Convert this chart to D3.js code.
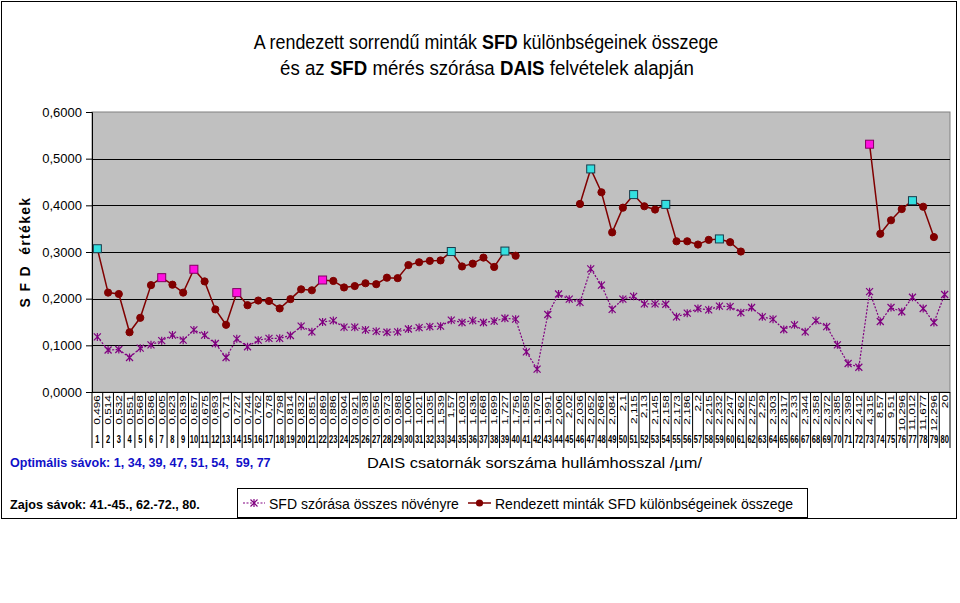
<!DOCTYPE html>
<html><head><meta charset="utf-8">
<script src="https://cdn.jsdelivr.net/npm/d3@7"></script>
<style>
body{margin:0;background:#fff}
svg{display:block}
text{font-family:"Liberation Sans",Arial,sans-serif}
</style>
</head><body>
<svg id="c" width="960" height="603"></svg>
<script>
const categories = d3.range(1, 81);
const wavelengths = ["0,496","0,514","0,532","0,551","0,568","0,586","0,605","0,623","0,639","0,657",
"0,675","0,693","0,71","0,727","0,744","0,762","0,78","0,798","0,814","0,832",
"0,851","0,869","0,886","0,904","0,921","0,938","0,956","0,973","0,988","1,006",
"1,021","1,035","1,539","1,57","1,603","1,636","1,668","1,699","1,727","1,756",
"1,958","1,976","1,991","2,006","2,02","2,036","2,052","2,068","2,084","2,1",
"2,115","2,13","2,145","2,158","2,173","2,186","2,2","2,215","2,232","2,247",
"2,262","2,275","2,29","2,303","2,317","2,33","2,344","2,358","2,372","2,385",
"2,398","2,412","4,315","8,57","9,51","10,296","11,012","11,677","12,296","20"];
const sfdSpread = [0.118,0.090,0.091,0.074,0.094,0.101,0.110,0.122,0.111,0.133,
0.122,0.104,0.074,0.114,0.097,0.111,0.115,0.115,0.121,0.141,
0.129,0.150,0.153,0.139,0.139,0.133,0.130,0.128,0.129,0.135,
0.138,0.140,0.141,0.154,0.149,0.153,0.149,0.152,0.158,0.156,
0.086,0.049,0.166,0.210,0.199,0.192,0.264,0.229,0.177,0.199,
0.205,0.189,0.189,0.188,0.161,0.169,0.179,0.176,0.184,0.183,
0.170,0.181,0.161,0.156,0.134,0.144,0.129,0.153,0.140,0.101,
0.061,0.053,0.215,0.151,0.181,0.172,0.203,0.179,0.149,0.209];
const sortedDiffSum = [0.307,0.213,0.210,0.128,0.159,0.229,0.245,0.230,0.213,0.263,
0.237,0.177,0.144,0.213,0.186,0.196,0.195,0.179,0.199,0.220,
0.218,0.240,0.238,0.224,0.227,0.233,0.231,0.245,0.244,0.272,
0.278,0.281,0.282,0.301,0.269,0.275,0.288,0.268,0.302,0.292,
null,null,null,null,null,0.403,0.478,0.428,0.342,0.395,
0.423,0.398,0.391,0.402,0.323,0.323,0.316,0.326,0.328,0.321,
0.301,null,null,null,null,null,null,null,null,null,
null,null,0.531,0.339,0.368,0.392,0.410,0.397,0.332,null];
const optimalBands = [1,34,39,47,51,54,59,77];
const highlightBands = [7,10,14,22,73];
const yTicks = [0,0.1,0.2,0.3,0.4,0.5,0.6];
const seriesNames = ["SFD szórása összes növényre","Rendezett minták SFD különbségeinek összege"];

(function(){
const svg = d3.select("#c");
const pL = 92, pR = 950, pT = 112, pB = 392;
const x = d3.scaleBand().domain(categories).range([pL, pR]);
const y = d3.scaleLinear().domain([0, 0.6]).range([pB, pT]);
const cx = c => x(c) + x.bandwidth() / 2;
const fmt = v => d3.format(".4f")(v).replace(".", ",");
const RED = "#800000", PURPLE = "#800080";

function fitWidth(sel, w, ax) {
  const bb = sel.node().getBBox();
  const s = w / bb.width;
  sel.attr("transform", `translate(${ax},0) scale(${s},1) translate(${-ax},0)`);
}

svg.append("rect").attr("x", 1.5).attr("y", 1.5).attr("width", 955).attr("height", 517)
  .attr("fill", "#fff").attr("stroke", "#000").attr("stroke-width", 1);

const t1 = svg.append("text").attr("x", 486).attr("y", 49).attr("text-anchor", "middle").attr("font-size", 19.5);
t1.append("tspan").text("A rendezett sorrendű minták ");
t1.append("tspan").attr("font-weight", "bold").text("SFD");
t1.append("tspan").text(" különbségeinek összege");
fitWidth(t1, 465, 486);
const t2 = svg.append("text").attr("x", 487).attr("y", 75).attr("text-anchor", "middle").attr("font-size", 19.5);
t2.append("tspan").text("és az ");
t2.append("tspan").attr("font-weight", "bold").text("SFD");
t2.append("tspan").text(" mérés szórása ");
t2.append("tspan").attr("font-weight", "bold").text("DAIS");
t2.append("tspan").text(" felvételek alapján");
fitWidth(t2, 414, 487);

svg.append("rect").attr("x", pL).attr("y", pT).attr("width", pR - pL).attr("height", pB - pT)
  .attr("fill", "#C0C0C0").attr("stroke", "#808080").attr("stroke-width", 1);

svg.append("g").selectAll("line").data(yTicks.filter(d => d > 0 && d < 0.6)).join("line")
  .attr("x1", pL).attr("x2", pR).attr("y1", d => Math.round(y(d)) + 0.5).attr("y2", d => Math.round(y(d)) + 0.5)
  .attr("stroke", "#000").attr("stroke-width", 1);

const ya = svg.append("g").attr("transform", `translate(${pL},0)`)
  .call(d3.axisLeft(y).tickValues(yTicks).tickFormat(fmt).tickSize(6).tickPadding(4));
ya.select(".domain").attr("stroke", "#000");
ya.selectAll("text").attr("font-size", 13).attr("font-family", "Liberation Sans, Arial, sans-serif").attr("fill", "#000");

svg.append("text").attr("transform", "translate(30,252) rotate(-90)").attr("text-anchor", "middle")
  .attr("font-size", 14).attr("font-weight", "bold").attr("letter-spacing", 1.3).style("white-space", "pre")
  .text("S F D  értékek");

svg.append("line").attr("x1", pL).attr("x2", pR).attr("y1", pB + 0.5).attr("y2", pB + 0.5).attr("stroke", "#000");
svg.append("g").selectAll("line").data(categories.concat([null])).join("line")
  .attr("x1", d => d == null ? pR : x(d)).attr("x2", d => d == null ? pR : x(d))
  .attr("y1", pB).attr("y2", 448).attr("stroke", "#000").attr("stroke-width", 1);
svg.append("g").selectAll("text").data(categories).join("text")
  .attr("transform", d => `translate(${cx(d) + 3},${pB + 3}) rotate(-90) scale(1.4,1)`)
  .attr("text-anchor", "end").attr("font-size", 8.5).text((d, i) => wavelengths[i]);
svg.append("g").selectAll("text").data(categories).join("text")
  .attr("transform", d => `translate(${cx(d)},443) scale(0.72,1)`)
  .attr("text-anchor", "middle").attr("font-size", 10.5).attr("font-weight", "bold")
  .text(d => d);

const xt = svg.append("text").attr("x", 367).attr("y", 468).attr("font-size", 15).text("DAIS csatornák sorszáma hullámhosszal /µm/");
fitWidth(xt, 336, 367);

const opt = svg.append("text").attr("x", 10).attr("y", 467).attr("font-size", 13.5).attr("font-weight", "bold")
  .attr("fill", "#1010C8").style("white-space", "pre").text("Optimális sávok: " + optimalBands.slice(0,6).join(", ") + ",  " + optimalBands.slice(6).join(", "));
fitWidth(opt, 261, 10);
const noisy = svg.append("text").attr("x", 10).attr("y", 509).attr("font-size", 13.5).attr("font-weight", "bold")
  .text("Zajos sávok: 41.-45., 62.-72., 80.");
fitWidth(noisy, 190, 10);

const starPath = "M-3.5,-3.5L3.5,3.5M-3.5,3.5L3.5,-3.5M0,-4L0,4";
const purpleData = categories.map((c, i) => ({c, v: sfdSpread[i]}));
const redData = categories.map((c, i) => ({c, v: sortedDiffSum[i]}));
const line = d3.line().defined(d => d.v != null).x(d => cx(d.c)).y(d => y(d.v));

svg.append("path").datum(purpleData).attr("d", line).attr("fill", "none")
  .attr("stroke", PURPLE).attr("stroke-width", 1.2).attr("stroke-dasharray", "2,1.5");
svg.append("g").selectAll("path").data(purpleData).join("path")
  .attr("transform", d => `translate(${cx(d.c)},${y(d.v)})`).attr("d", starPath)
  .attr("stroke", PURPLE).attr("stroke-width", 1.2).attr("fill", "none");

svg.append("path").datum(redData).attr("d", line).attr("fill", "none")
  .attr("stroke", RED).attr("stroke-width", 1.5);
const redPts = redData.filter(d => d.v != null);
svg.append("g").selectAll("circle").data(redPts.filter(d => !optimalBands.includes(d.c) && !highlightBands.includes(d.c))).join("circle")
  .attr("cx", d => cx(d.c)).attr("cy", d => y(d.v)).attr("r", 3.6).attr("fill", RED).attr("stroke", RED);
svg.append("g").selectAll("rect").data(redPts.filter(d => optimalBands.includes(d.c) || highlightBands.includes(d.c))).join("rect")
  .attr("x", d => cx(d.c) - 4).attr("y", d => y(d.v) - 4).attr("width", 8).attr("height", 8)
  .attr("fill", d => optimalBands.includes(d.c) ? "#33E0E0" : "#FF10E0")
  .attr("stroke", d => optimalBands.includes(d.c) ? "#1a3a4a" : "#800060").attr("stroke-width", 1);

const lg = svg.append("g");
lg.append("rect").attr("x", 237.5).attr("y", 488.5).attr("width", 570).attr("height", 29)
  .attr("fill", "#fff").attr("stroke", "#000");
lg.append("line").attr("x1", 243).attr("x2", 265).attr("y1", 503).attr("y2", 503)
  .attr("stroke", PURPLE).attr("stroke-width", 1.2).attr("stroke-dasharray", "2,1.5");
lg.append("path").attr("transform", "translate(254,503)").attr("d", starPath).attr("stroke", PURPLE).attr("stroke-width", 1.2);
lg.append("text").attr("x", 269).attr("y", 509).attr("font-size", 14).text(seriesNames[0]);
lg.append("line").attr("x1", 468).attr("x2", 491).attr("y1", 503).attr("y2", 503).attr("stroke", RED).attr("stroke-width", 1.5);
lg.append("circle").attr("cx", 479.5).attr("cy", 503).attr("r", 3.6).attr("fill", RED);
lg.append("text").attr("x", 495).attr("y", 509).attr("font-size", 14).text(seriesNames[1]);
})();
</script>
</body></html>
